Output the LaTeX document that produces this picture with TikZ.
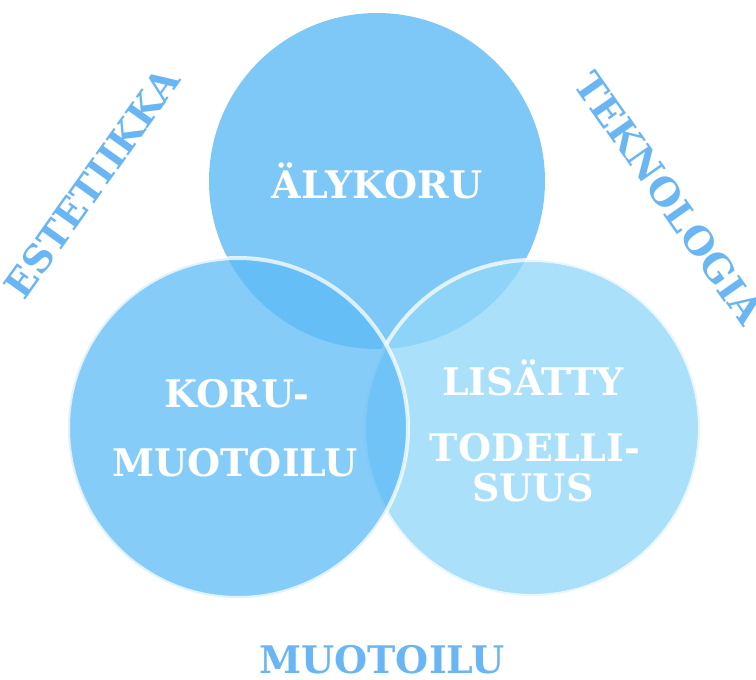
\documentclass[tikz,border=0pt]{standalone}
\usepackage{fontspec}
\setmainfont{DejaVu Serif}
\usepackage{tikz}
\usetikzlibrary{positioning}
\definecolor{TopBlue}{RGB}{126,200,248}
\definecolor{LeftBlue}{RGB}{94,187,247}
\definecolor{RightBlue}{RGB}{147,215,249}
\definecolor{LabelBlue}{RGB}{106,182,245}
\tikzset{
  ring/.style={circle, minimum size=#1, inner sep=0pt, outer sep=0pt},
  inlabel/.style={text=white, font=\fontsize{38}{44}\selectfont\bfseries,
                  inner sep=0pt, align=center},
  outlabel/.style={text=LabelBlue, font=\fontsize{38}{44}\selectfont\bfseries,
                   inner sep=0pt}
}

\begin{document}
\begin{tikzpicture}[x=1pt,y=-1pt]
\useasboundingbox (0,0) rectangle (756,680);
% three circles
\node[ring=336pt, fill=TopBlue] (smart) at (377,181) {};
\node[ring=336pt, fill=RightBlue, fill opacity=0.78,
      draw=white, draw opacity=0.75, line width=4pt] (ar) at (532,428) {};
\node[ring=340pt, fill=LeftBlue, fill opacity=0.75,
      draw=white, draw opacity=0.75, line width=4pt] (jewel) at (238,428) {};
% texts inside
\node[inlabel] (smarttxt) at (smart.center) {ÄLYKORU};
\node[inlabel] (jeweltop) at (237,394) {KORU-};
\node[inlabel] (jewelbot) at (235,463) {MUOTOILU};
\node[inlabel] (artop) at (533,378) {LISÄTTY};
\node[inlabel] (armid) at (535,448) {TODELLI-};
\node[inlabel] (arbot) at (533,488) {SUUS};
% texts outside
\node[outlabel, rotate=54.5] (aesth) at (92,183) {ESTETIIKKA};
\node[outlabel, rotate=-55] (tech) at (669,198) {TEKNOLOGIA};
\node[outlabel, anchor=base] (design) at (382,673) {MUOTOILU};
\end{tikzpicture}
\end{document}
